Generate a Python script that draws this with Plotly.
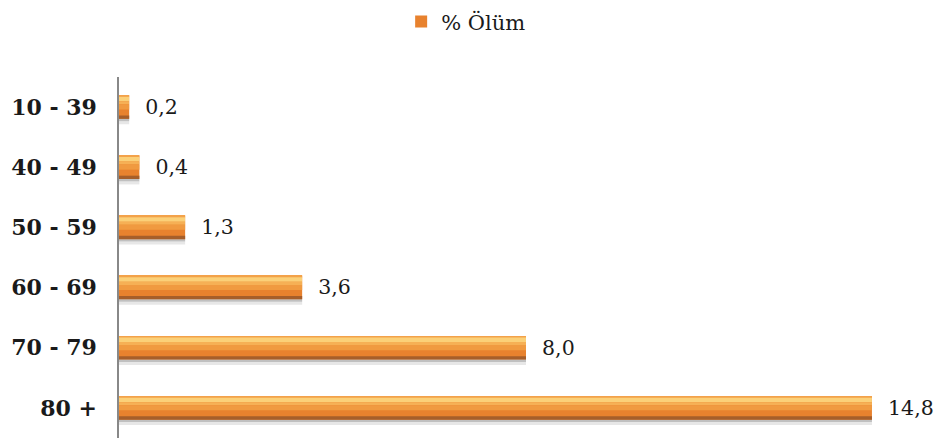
import plotly.graph_objects as go

categories = ["10 - 39", "40 - 49", "50 - 59", "60 - 69", "70 - 79", "80 +"]
olum = [0.2, 0.4, 1.3, 3.6, 8.0, 14.8]
series_name = "% Ölüm"

FONT = "DejaVu Serif"

# (offset, width, colour) bands that build up the shaded bar look
bands = [
    (0.195, 0.04, "rgba(140,140,140,0.55)"),
    (0.235, 0.05, "rgba(185,185,185,0.35)"),
    (-0.195, 0.03, "#F3A24A"),
    (-0.17, 0.075, "#FBD078"),
    (-0.095, 0.05, "#F6B055"),
    (-0.045, 0.085, "#F09A40"),
    (0.14, 0.055, "#A65E2A"),
]

fig = go.Figure()

# main bar (carries legend and labels)
fig.add_trace(go.Bar(y=categories, x=olum, orientation="h", width=0.39, offset=-0.195,
                     name=series_name,
                     marker=dict(color="#E8822E", line=dict(width=0)),
                     text=olum, texttemplate="  %{x:.1f}", textposition="outside",
                     textfont=dict(family=FONT, size=21, color="#1a1a1a"),
                     cliponaxis=False))

for off, w, col in bands:
    fig.add_trace(go.Bar(y=categories, x=olum, orientation="h", width=w, offset=off,
                         marker=dict(color=col, line=dict(width=0)),
                         showlegend=False, hoverinfo="skip"))

fig.update_layout(
    width=935, height=434,
    barmode="overlay",
    separators=",.",
    paper_bgcolor="white", plot_bgcolor="white",
    margin=dict(l=111, r=10, t=69, b=4),
    font=dict(family=FONT, size=21, color="#1a1a1a"),
    legend=dict(orientation="h", xref="container", x=0.49, xanchor="center",
                yref="container", y=0.968, yanchor="middle",
                font=dict(family=FONT, size=21, color="#1a1a1a")),
    xaxis=dict(range=[0, 16], showgrid=False, showticklabels=False, zeroline=False,
               showline=False, ticks=""),
    yaxis=dict(categoryorder="array", categoryarray=categories, autorange="reversed",
               showline=True, linecolor="#888888", linewidth=1.5, showgrid=False,
               ticks="", ticklabelstandoff=16,
               tickfont=dict(family=FONT, size=22, color="#1a1a1a", weight="bold")),
)

fig.write_html("out.html")
